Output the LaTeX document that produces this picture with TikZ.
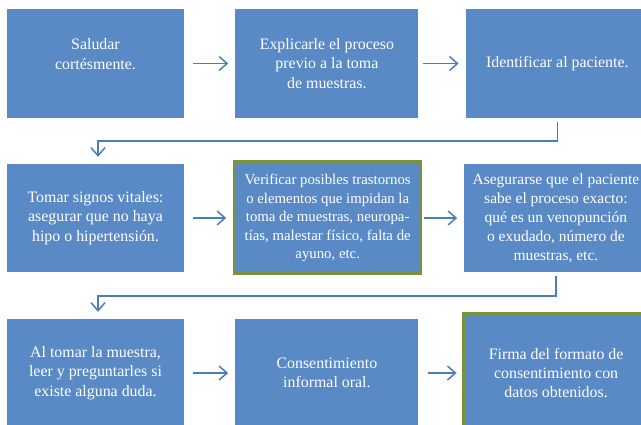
\documentclass[tikz,border=0pt]{standalone}
\usepackage{fontspec}
\setmainfont{Liberation Serif}
\usepackage{tikz}
\usetikzlibrary{arrows.meta,positioning}
\definecolor{boxblue}{HTML}{5A8AC6}
\definecolor{linkblue}{HTML}{4A7EBB}
\definecolor{framegreen}{HTML}{77933C}

\begin{document}
\begin{tikzpicture}[x=1pt,y=-1pt,
  stepbox/.style={rectangle,fill=boxblue,minimum width=183pt,minimum height=108pt,align=center,text=white,inner sep=1pt,font=\fontsize{15.9}{19.2}\selectfont},
  narrowbox/.style={stepbox,minimum width=177pt},
  keybox/.style={stepbox,draw=framegreen,line width=3pt,minimum width=186pt,minimum height=112pt},
  arr/.style={-{Straight Barb[length=8pt,width=14pt]},line width=1.5pt,draw=linkblue,shorten <=9pt,shorten >=7pt},
  node distance=51pt
]
\useasboundingbox (0,0) rectangle (641,425);
\clip (0,0) rectangle (641,425);
% first row
\node[narrowbox,minimum height=109pt] (greet) at (95.5,63.5) {Saludar\\cortésmente.\\~};
\node[stepbox,minimum height=109pt,right=51pt of greet] (explain) {Explicarle el proceso\\previo a la toma\\de muestras.};
\node[stepbox,minimum height=109pt,right=47pt of explain] (identify) {Identificar al paciente.};
% second row
\node[narrowbox] (vitals) at (95.5,218) {Tomar signos vitales:\\asegurar que no haya\\hipo o hipertensión.};
\node[keybox,font=\fontsize{14.8}{18.4}\selectfont,right=49pt of vitals] (check) {Verificar posibles trastornos\\o elementos que impidan la\\toma de muestras, neuropa-\\tías, malestar físico, falta de\\ayuno, etc.};
\node[stepbox,font=\fontsize{15.5}{19}\selectfont,right=42pt of check] (ensure) {Asegurarse que el paciente\\sabe el proceso exacto:\\qué es un venopunción\\o exudado, número de\\muestras, etc.};
% third row
\node[narrowbox] (sample) at (95.5,373) {Al tomar la muestra,\\leer y preguntarles si\\existe alguna duda.};
\node[stepbox,right=51pt of sample] (consent) {Consentimiento\\informal oral.};
\node[keybox,minimum height=118pt,right=43pt of consent] (sign) {Firma del formato de\\consentimiento con\\datos obtenidos.};
% arrows
\draw[arr] (greet)--(explain); \draw[arr,shorten <=4pt] (explain)--(identify);
\draw[arr,shorten <=4pt] (identify.south)--++(0,23)-|([xshift=2.5pt]vitals.north);
\draw[arr] (vitals)--(check); \draw[arr,shorten <=2pt] (check)--(ensure);
\draw[arr,shorten <=4pt] (ensure.south)--++(0,24)-|([xshift=2.5pt]sample.north);
\draw[arr] (sample)--(consent); \draw[arr,shorten >=5pt] (consent)--(sign);
\end{tikzpicture}
\end{document}
